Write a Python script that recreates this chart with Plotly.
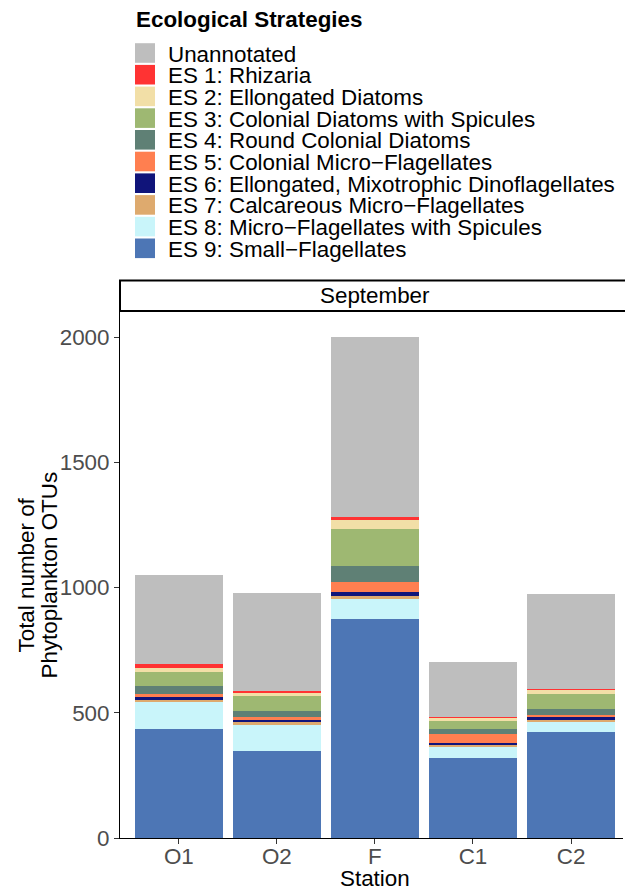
import plotly.graph_objects as go

stations = ["O1", "O2", "F", "C1", "C2"]

unannotated = [355, 391, 718, 222, 383]
es1 = [16, 8, 12, 2, 2]
es2 = [16, 12, 36, 13, 16]
es3 = [56, 60, 148, 32, 60]
es4 = [32, 24, 64, 20, 24]
es5 = [12, 12, 40, 36, 8]
es6 = [12, 8, 16, 4, 12]
es7 = [8, 12, 12, 12, 4]
es8 = [108, 104, 80, 44, 44]
es9 = [435, 347, 874, 319, 423]

series_names = [
    "ES 9: Small\u2212Flagellates",
    "ES 8: Micro\u2212Flagellates with Spicules",
    "ES 7: Calcareous Micro\u2212Flagellates",
    "ES 6: Ellongated, Mixotrophic Dinoflagellates",
    "ES 5: Colonial Micro\u2212Flagellates",
    "ES 4: Round Colonial Diatoms",
    "ES 3: Colonial Diatoms with Spicules",
    "ES 2: Ellongated Diatoms",
    "ES 1: Rhizaria",
    "Unannotated",
]
series_values = [es9, es8, es7, es6, es5, es4, es3, es2, es1, unannotated]
series_colors = [
    "#4D76B5", "#C9F5FA", "#DEAA6E", "#10147A", "#FF7F50",
    "#5F8075", "#9EB872", "#F2DFA7", "#FF3333", "#BEBEBE",
]

fig = go.Figure()
for name, vals, col in zip(series_names, series_values, series_colors):
    fig.add_trace(go.Bar(
        x=stations, y=vals, name=name,
        marker=dict(color=col, line=dict(width=0)),
        width=0.9, showlegend=False,
    ))

H = 887
W = 625
mt, mb, ml, mr = 311, 49, 120, 2
ph = H - mt - mb
pw = W - ml - mr
FONT = "Liberation Sans, Arial, sans-serif"
FS = 22.4


def px_x(px):
    return (px - ml) / pw


def px_y(py):
    return (H - mb - py) / ph


fig.update_layout(
    width=W, height=H,
    barmode="stack",
    bargap=0.1,
    showlegend=False,
    margin=dict(t=mt, b=mb, l=ml, r=mr, autoexpand=False),
    paper_bgcolor="white",
    plot_bgcolor="white",
    font=dict(family=FONT, color="black"),
    xaxis=dict(
        range=[-0.6, 4.53],
        showline=True, linecolor="black", linewidth=1,
        ticks="outside", ticklen=5, tickcolor="#333333",
        tickfont=dict(size=FS, color="#4D4D4D"),
        ticklabelstandoff=-7,
        showgrid=False, zeroline=False, fixedrange=True,
    ),
    yaxis=dict(
        range=[0, 2104],
        tickvals=[0, 500, 1000, 1500, 2000],
        showline=True, linecolor="black", linewidth=1,
        ticks="outside", ticklen=5, tickcolor="#333333",
        tickfont=dict(size=FS, color="#4D4D4D"),
        showgrid=False, zeroline=False, fixedrange=True,
    ),
)

# Axis titles
fig.add_annotation(text="Station", xref="paper", yref="paper",
                   x=px_x(375), y=px_y(878), xanchor="center", yanchor="middle",
                   showarrow=False, font=dict(size=FS, color="black"))
fig.add_annotation(text="Total number of", xref="paper", yref="paper",
                   x=px_x(25.5), y=px_y(575), xanchor="center", yanchor="middle",
                   textangle=-90, showarrow=False, font=dict(size=FS, color="black"))
fig.add_annotation(text="Phytoplankton OTUs", xref="paper", yref="paper",
                   x=px_x(48.5), y=px_y(575), xanchor="center", yanchor="middle",
                   textangle=-90, showarrow=False, font=dict(size=FS, color="black"))

# Legend (drawn manually to match ggplot key sizes)
fig.add_annotation(text="<b>Ecological Strategies</b>", xref="paper", yref="paper",
                   x=px_x(134), y=px_y(20), xanchor="left", yanchor="middle",
                   showarrow=False, font=dict(size=FS, color="black"))
legend_order = list(range(len(series_names)))[::-1]
for i, idx in enumerate(legend_order):
    cy = 53 + 21.7 * i
    fig.add_shape(type="rect", xref="paper", yref="paper",
                  x0=px_x(135), x1=px_x(155), y0=px_y(cy - 9.8), y1=px_y(cy + 9.8),
                  fillcolor=series_colors[idx], line=dict(width=0), layer="above")
    fig.add_annotation(text=series_names[idx], xref="paper", yref="paper",
                       x=px_x(166), y=px_y(cy + 1), xanchor="left", yanchor="middle",
                       showarrow=False, font=dict(size=FS, color="black"))

# Facet strip
fig.add_shape(type="rect", xref="paper", yref="paper",
              x0=0, x1=px_x(W + 4), y0=px_y(311), y1=px_y(280.5),
              line=dict(color="black", width=2), fillcolor="white", layer="above")
fig.add_annotation(text="September", xref="paper", yref="paper",
                   x=px_x(375), y=px_y(296), showarrow=False,
                   font=dict(size=FS, color="black"),
                   xanchor="center", yanchor="middle")

fig.write_html("out.html", config={"displayModeBar": False},
               post_script="document.body.style.margin='0';document.body.style.overflow='hidden';")
